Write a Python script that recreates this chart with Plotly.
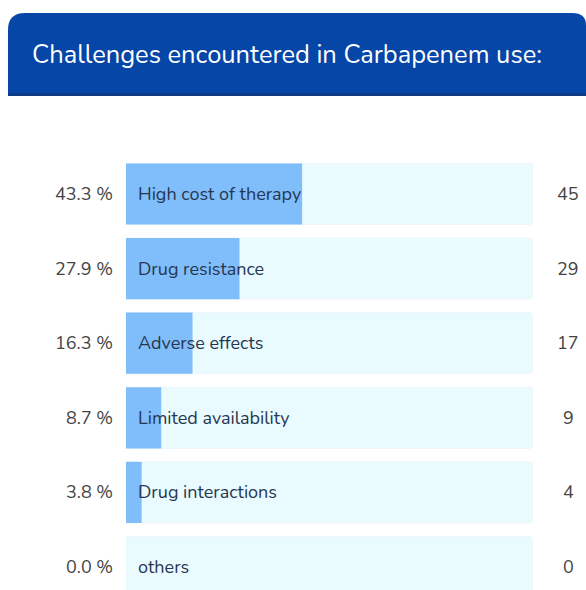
import plotly.graph_objects as go

# Data
categories = ["High cost of therapy", "Drug resistance", "Adverse effects",
              "Limited availability", "Drug interactions", "others"]
counts = [45, 29, 17, 9, 4, 0]
title_text = "Challenges encountered in Carbapenem use:"

total = sum(counts)
percents = [c / total * 100 for c in counts]
track = [100] * len(categories)

W, H = 586, 590
FONT = "Nunito, Lato, 'Open Sans', sans-serif"

fig = go.Figure()

# background track
fig.add_trace(go.Bar(
    y=categories, x=track, orientation="h",
    marker=dict(color="#e9fbff", line=dict(color="#eef5fb", width=1), cornerradius=4),
    width=0.82, hoverinfo="skip", showlegend=False,
))
# value bar
fig.add_trace(go.Bar(
    y=categories, x=percents, orientation="h",
    marker=dict(color="#80bdfb", line=dict(width=0)),
    width=0.82, hoverinfo="skip", showlegend=False,
))

annotations = []
for cat, p, c in zip(categories, percents, counts):
    # label inside bar
    annotations.append(dict(
        x=0, y=cat, xref="x", yref="y", text=cat, showarrow=False,
        xanchor="left", xshift=10, yanchor="middle",
        font=dict(family=FONT, size=18, color="#273650"),
    ))
    # percent on the left
    annotations.append(dict(
        x=0, y=cat, xref="x", yref="y", text=f"{p:.1f} %", showarrow=False,
        xanchor="right", xshift=-11, yanchor="middle",
        font=dict(family=FONT, size=18, color="#444444"),
    ))
    # count on the right
    annotations.append(dict(
        x=568 / W, y=cat, xref="paper", yref="y", text=str(c),
        showarrow=False, xanchor="center", yanchor="middle",
        font=dict(family=FONT, size=18, color="#444444"),
    ))

# title text
annotations.append(dict(
    x=30 / W, y=1 - 55 / H, xref="paper", yref="paper", text=title_text,
    showarrow=False, xanchor="left", yanchor="middle",
    font=dict(family=FONT, size=25.5, color="#ffffff"),
))

shapes = [
    # title bar
    dict(type="path", xref="paper", yref="paper", layer="below",
         path=f"M {8/W} {1-95/H} L {8/W} {1-30/H} Q {8/W} {1-13/H} {25/W} {1-13/H} "
              f"L {572/W} {1-13/H} Q {586/W} {1-13/H} {586/W} {1-25/H} L {586/W} {1-95/H} Z",
         fillcolor="#0546a6", line=dict(width=0)),
    dict(type="rect", xref="paper", yref="paper", layer="below",
         x0=8 / W, x1=1, y0=1 - 96 / H, y1=1 - 93 / H,
         fillcolor="#0b3c85", line=dict(width=0)),
]

# y mapping: row 0 centered at 194px, spacing 74.6px
unit = 74.6
r0 = -194 / unit
r1 = r0 + H / unit

fig.update_layout(
    width=W, height=H,
    margin=dict(l=0, r=0, t=0, b=0),
    paper_bgcolor="#ffffff", plot_bgcolor="rgba(0,0,0,0)",
    barmode="overlay",
    xaxis=dict(domain=[126 / W, 533 / W], range=[0, 100], visible=False, fixedrange=True),
    yaxis=dict(range=[r1, r0], visible=False, fixedrange=True,
               categoryorder="array", categoryarray=categories),
    annotations=annotations,
    shapes=shapes,
    font=dict(family=FONT),
)

fig.write_html("out.html")
